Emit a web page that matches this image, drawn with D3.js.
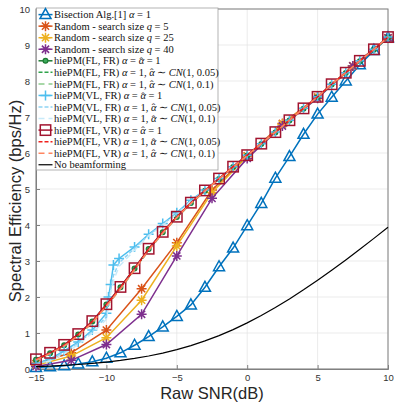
<!DOCTYPE html>
<html>
<head>
<meta charset="utf-8">
<script src="https://cdn.jsdelivr.net/npm/d3@7/dist/d3.min.js"></script>
<style>
body {margin:0; background:#fff;}
svg {display:block;}
</style>
</head>
<body>
<svg id="chart"></svg>
<script>
// x values (dB)
var snrInt = [-15,-14,-13,-12,-11,-10,-9,-8,-7,-6,-5,-4,-3,-2,-1,0,1,2,3,4,5,6,7,8,9,10];
var snrRandom = [-15,-12.5,-10,-7.5,-5,-2.5,0,2.5,5,7.5,10];
var snrVL = [-15,-14,-13,-12,-11,-10,-9.85,-9.7,-9.5,-9.1,-8,-7,-6,-5,-4,-3,-2,-1,0,1,2,3,4,5,6,7,8,9,10];

var bisection = [0.04,0.06,0.09,0.14,0.2,0.3,0.45,0.66,0.9,1.17,1.46,1.78,2.27,2.84,3.36,3.98,4.6,5.3,5.9,6.52,7.08,7.55,8.0,8.45,8.85,9.2];
var random5 = [0.15,0.45,1.08,2.23,3.51,4.97,5.92,6.82,7.56,8.42,9.2];
var random25 = [0.1,0.36,0.87,1.91,3.42,4.9,5.9,6.8,7.55,8.42,9.2];
var random40 = [0.07,0.24,0.68,1.52,3.14,4.74,5.85,6.75,7.52,8.42,9.2];

var flfr = [0.26,0.44,0.66,0.96,1.32,1.79,2.27,2.79,3.33,3.8,4.22,4.61,4.95,5.28,5.61,5.93,6.25,6.57,6.9,7.23,7.55,7.9,8.22,8.55,8.87,9.21];
var flfr05 = [0.25,0.43,0.65,0.94,1.3,1.77,2.25,2.77,3.31,3.79,4.21,4.6,4.95,5.28,5.61,5.93,6.25,6.57,6.9,7.23,7.55,7.9,8.22,8.55,8.87,9.21];
var flfr1 = [0.24,0.42,0.63,0.92,1.28,1.74,2.22,2.75,3.29,3.77,4.2,4.59,4.94,5.27,5.6,5.92,6.25,6.57,6.9,7.23,7.55,7.9,8.22,8.55,8.87,9.21];

var vlfr = [0.15,0.28,0.5,0.75,1.08,1.55,2.0,2.35,2.89,3.07,3.39,3.74,4.04,4.34,4.69,4.97,5.29,5.62,5.94,6.26,6.58,6.91,7.24,7.56,7.91,8.23,8.56,8.88,9.22];
var vlfr05 = [0.13,0.25,0.46,0.72,1.04,1.45,1.85,2.2,2.6,2.95,3.35,3.72,4.02,4.32,4.67,4.96,5.29,5.62,5.94,6.26,6.58,6.91,7.24,7.56,7.91,8.23,8.56,8.88,9.22];
var vlfr1 = [0.11,0.22,0.42,0.68,1.0,1.38,1.75,2.1,2.45,2.85,3.3,3.7,4.0,4.3,4.66,4.95,5.28,5.62,5.94,6.26,6.58,6.91,7.24,7.56,7.91,8.23,8.56,8.88,9.22];

var flvr = [0.27,0.45,0.67,0.97,1.33,1.8,2.28,2.8,3.34,3.81,4.23,4.62,4.96,5.29,5.62,5.94,6.26,6.58,6.91,7.24,7.56,7.91,8.23,8.56,8.88,9.22];
var flvr05 = [0.26,0.44,0.66,0.95,1.31,1.78,2.26,2.78,3.32,3.8,4.22,4.61,4.96,5.29,5.62,5.94,6.26,6.58,6.91,7.24,7.56,7.91,8.23,8.56,8.88,9.22];
var flvr1 = [0.25,0.43,0.64,0.93,1.29,1.75,2.23,2.76,3.3,3.78,4.21,4.6,4.95,5.28,5.61,5.93,6.26,6.58,6.91,7.24,7.56,7.91,8.23,8.56,8.88,9.22];

var noBeam = [0.064,0.08,0.1,0.125,0.155,0.193,0.239,0.295,0.362,0.442,0.538,0.65,0.78,0.928,1.095,1.281,1.486,1.708,1.946,2.199,2.465,2.743,3.03,3.325,3.628,3.936];

var xTicks = [-15,-10,-5,0,5,10];
var yTicks = [0,1,2,3,4,5,6,7,8,9,10];

// *...* = italic, "α^" = alpha hat
var legendLabels = [
    "Bisection Alg.[1] *α* = 1",
    "Random - search size *q* = 5",
    "Random - search size *q* = 25",
    "Random - search size *q* = 40",
    "hiePM(FL, FR) *α* = *α^* = 1",
    "hiePM(FL, FR) *α* = 1, *α^* ∼ *CN*(1, 0.05)",
    "hiePM(FL, FR) *α* = 1, *α^* ∼ *CN*(1, 0.1)",
    "hiePM(VL, FR) *α* = *α^* = 1",
    "hiePM(VL, FR) *α* = 1, *α^* ∼ *CN*(1, 0.05)",
    "hiePM(VL, FR) *α* = 1, *α^* ∼ *CN*(1, 0.1)",
    "hiePM(FL, VR) *α* = *α^* = 1",
    "hiePM(FL, VR) *α* = 1, *α^* ∼ *CN*(1, 0.05)",
    "hiePM(FL, VR) *α* = 1, *α^* ∼ *CN*(1, 0.1)",
    "No beamforming"
]

var series = [
    {x:snrInt, y:bisection, color:"#0072BD", marker:"tri", width:1.5},
    {x:snrRandom, y:random5, color:"#D95319", marker:"star", width:1.5},
    {x:snrRandom, y:random25, color:"#EDB120", marker:"star", width:1.5},
    {x:snrRandom, y:random40, color:"#7E2F8E", marker:"star", width:1.5},
    {x:snrInt, y:flfr, color:"#1E7B34", marker:"circle", width:1.5},
    {x:snrInt, y:flfr05, color:"#2FA34A", dash:"4,2", width:1.5},
    {x:snrInt, y:flfr1, color:"#8CCB8C", dash:"6,4", width:1.5},
    {x:snrVL, y:vlfr, color:"#4DBEEE", marker:"plus", width:1.5},
    {x:snrVL, y:vlfr05, color:"#8FD4F4", dash:"4,2", width:1.5},
    {x:snrVL, y:vlfr1, color:"#C8EAF9", dash:"6,4", width:1.5},
    {x:snrInt, y:flvr, color:"#A2142F", marker:"square", width:1.5},
    {x:snrInt, y:flvr05, color:"#F0201C", dash:"4,2", width:1.5},
    {x:snrInt, y:flvr1, color:"#FF8560", dash:"6,4", width:1.5},
    {x:snrInt, y:noBeam, color:"#000000", width:1.2}
]

var drawMarker = function(g, type, color, cx, cy)
{
    if (type == "tri") {
        g.append("path")
            .attr("d","M"+cx+","+(cy-6)+"L"+(cx+5.5)+","+(cy+4)+"L"+(cx-5.5)+","+(cy+4)+"Z")
            .attr("fill","none").attr("stroke",color).attr("stroke-width",1.5)
    }
    else if (type == "square") {
        g.append("rect")
            .attr("x",cx-5.2).attr("y",cy-5.2).attr("width",10.4).attr("height",10.4)
            .attr("fill","none").attr("stroke",color).attr("stroke-width",1.5)
    }
    else if (type == "circle") {
        g.append("circle")
            .attr("cx",cx).attr("cy",cy).attr("r",2.4)
            .attr("fill","#3BAA5A").attr("stroke",color).attr("stroke-width",1.2)
    }
    else if (type == "star" || type == "plus") {
        var r = 5
        var d = "M"+(cx-r)+","+cy+"L"+(cx+r)+","+cy+"M"+cx+","+(cy-r)+"L"+cx+","+(cy+r)
        if (type == "star") {
            var k = r*0.72
            d += "M"+(cx-k)+","+(cy-k)+"L"+(cx+k)+","+(cy+k)+"M"+(cx-k)+","+(cy+k)+"L"+(cx+k)+","+(cy-k)
        }
        g.append("path").attr("d",d)
            .attr("fill","none").attr("stroke",color).attr("stroke-width",1.5)
    }
}

var createAxes = function(svg, margins, graph, xScale, yScale)
{
    var grid = svg.append("g")
        .attr("transform","translate("+margins.left+","+margins.top+")")
    grid.selectAll(".gx").data(xTicks).enter().append("line")
        .attr("x1",function(d){return xScale(d)}).attr("x2",function(d){return xScale(d)})
        .attr("y1",0).attr("y2",graph.height)
        .attr("stroke","#e6e6e6").attr("stroke-width",0.8)
    grid.selectAll(".gy").data(yTicks).enter().append("line")
        .attr("y1",function(d){return yScale(d)}).attr("y2",function(d){return yScale(d)})
        .attr("x1",0).attr("x2",graph.width)
        .attr("stroke","#e6e6e6").attr("stroke-width",0.8)

    var xAxis = d3.axisBottom(xScale).tickValues(xTicks).tickSize(-4).tickPadding(5)
    var yAxis = d3.axisLeft(yScale).tickValues(yTicks).tickSize(-4).tickPadding(6)

    var axes = svg.append("g").classed("axes",true)
    axes.append("g")
        .attr("transform","translate("+margins.left+","+(margins.top+graph.height)+")")
        .call(xAxis)
    axes.append("g")
        .attr("transform","translate("+margins.left+","+margins.top+")")
        .call(yAxis)
    // box
    axes.append("rect")
        .attr("x",margins.left).attr("y",margins.top)
        .attr("width",graph.width).attr("height",graph.height)
        .attr("fill","none").attr("stroke","#808080").attr("stroke-width",1)
    axes.selectAll(".domain").attr("stroke","#808080")
    axes.selectAll(".tick line").attr("stroke","#808080")
    axes.selectAll(".tick text")
        .attr("font-family","'Liberation Sans', Arial, sans-serif")
        .attr("font-size",9.5).attr("fill","#333")
}

var drawLines = function(svg, margins, xScale, yScale)
{
    var plot = svg.append("g")
        .classed("graph",true)
        .attr("transform","translate("+margins.left+","+margins.top+")")
    series.forEach(function(s)
    {
        var pts = s.x.map(function(x,i){return [x, s.y[i]]})
        var lineGenerator = d3.line()
            .x(function(p){return xScale(p[0])})
            .y(function(p){return yScale(p[1])})
        plot.append("path")
            .datum(pts)
            .attr("d",lineGenerator)
            .attr("fill","none")
            .attr("stroke",s.color)
            .attr("stroke-width",s.width)
            .attr("stroke-dasharray",s.dash ? s.dash : null)
        if (s.marker) {
            var mg = plot.append("g")
            pts.forEach(function(p)
            {
                drawMarker(mg, s.marker, s.color, xScale(p[0]), yScale(p[1]))
            })
        }
    })
}

var drawLegend = function(svg)
{
    var lg = svg.append("g").classed("legend",true)
    lg.append("rect")
        .attr("x",36.5).attr("y",8).attr("width",181.5).attr("height",162)
        .attr("fill","#fff").attr("stroke","#a0a0a0").attr("stroke-width",0.8)
    legendLabels.forEach(function(label,i)
    {
        var s = series[i]
        var y = 14.6 + i*11.55
        lg.append("line")
            .attr("x1",38.5).attr("x2",52.5).attr("y1",y).attr("y2",y)
            .attr("stroke",s.color).attr("stroke-width",s.width)
            .attr("stroke-dasharray",s.dash ? s.dash : null)
        if (s.marker) drawMarker(lg, s.marker, s.color, 45.5, y)
        var t = lg.append("text")
            .attr("x",54).attr("y",y+3.6)
            .attr("font-family","'Liberation Serif', 'Times New Roman', serif")
            .attr("font-size",10.5).attr("fill","#111")
        var afterHat = false
        label.split("*").forEach(function(part,j)
        {
            if (part.length == 0) return
            if (part == "α^") {
                t.append("tspan").text("α").attr("font-style","italic")
                t.append("tspan").text("ˆ").attr("dx",-4.6).attr("dy",0.5)
                afterHat = true
                return
            }
            var ts = t.append("tspan").text(part)
                .attr("font-style", j%2 == 1 ? "italic" : null)
            if (afterHat) {
                ts.attr("dx",1).attr("dy",-0.5)
                afterHat = false
            }
        })
    })
}

var displayChart = function(target)
{
    var screen = {width:399, height:406}
    var margins = {top:9, bottom:37, left:36, right:11}
    var graph = {
        width: screen.width-margins.left-margins.right,
        height: screen.height-margins.top-margins.bottom
    }
    var svg = d3.select(target)
        .attr("width",screen.width)
        .attr("height",screen.height)

    var xScale = d3.scaleLinear().domain([-15,10]).range([0,graph.width])
    var yScale = d3.scaleLinear().domain([0,10]).range([graph.height,0])

    createAxes(svg, margins, graph, xScale, yScale)
    drawLines(svg, margins, xScale, yScale)
    drawLegend(svg)

    svg.append("text")
        .attr("x",margins.left+graph.width/2).attr("y",399)
        .attr("text-anchor","middle")
        .attr("font-family","'Liberation Sans', Arial, sans-serif")
        .attr("font-size",16.5).attr("fill","#262626")
        .text("Raw SNR(dB)")
    svg.append("text")
        .attr("transform","translate(21,201) rotate(-90)")
        .attr("text-anchor","middle")
        .attr("font-family","'Liberation Sans', Arial, sans-serif")
        .attr("font-size",16.5).attr("fill","#262626")
        .text("Spectral Efficiency (bps/Hz)")
}

displayChart("#chart")
</script>
</body>
</html>
